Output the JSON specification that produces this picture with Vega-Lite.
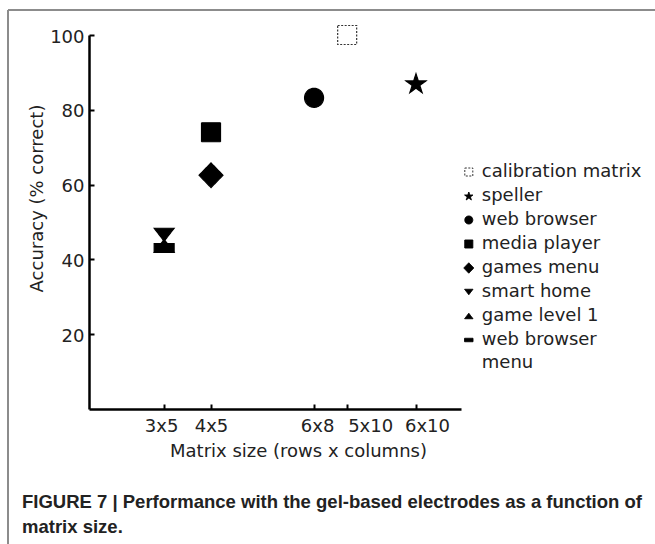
{
  "$schema": "https://vega.github.io/schema/vega-lite/v6.json",
  "autosize": "none",
  "padding": {"left": 8, "top": 10, "right": 0, "bottom": 0},
  "width": 647,
  "height": 534,
  "background": "white",
  "config": {
    "view": {"stroke": "#8c8c8c", "strokeWidth": 2, "strokeDash": [647, 1181, 534, 0], "fill": "white"},
    "font": "DejaVu Sans",
    "style": {"guide-label": {"lineHeight": 23}}
  },
  "title": {
    "text": ["FIGURE 7 | Performance with the gel-based electrodes as a function of", "matrix size."],
    "orient": "top",
    "anchor": "start",
    "frame": "group",
    "baseline": "top",
    "offset": 0,
    "dx": 14,
    "dy": 526,
    "font": "Liberation Sans",
    "fontSize": 18.5,
    "fontWeight": "bold",
    "color": "#222222",
    "lineHeight": 25
  },
  "data": {
    "values": [
      {"app": "calibration matrix", "matrix": "5x10", "pos": 6.94, "accuracy": 100},
      {"app": "speller", "matrix": "6x10", "pos": 8.79, "accuracy": 87.1},
      {"app": "web browser", "matrix": "6x8", "pos": 6.05, "accuracy": 83.2},
      {"app": "media player", "matrix": "4x5", "pos": 3.28, "accuracy": 74.0},
      {"app": "games menu", "matrix": "4x5", "pos": 3.28, "accuracy": 62.5},
      {"app": "smart home", "matrix": "3x5", "pos": 2.02, "accuracy": 46.6},
      {"app": "game level 1", "matrix": "3x5", "pos": 2.02, "accuracy": 43.6},
      {"app": "web browser menu", "matrix": "3x5", "pos": 2.02, "accuracy": 43.1}
    ]
  },
  "mark": {"type": "point", "strokeWidth": 1.2, "opacity": 1, "size": 361},
  "encoding": {
    "x": {
      "field": "pos",
      "type": "quantitative",
      "scale": {"domain": [0, 10], "range": [81, 453]},
      "axis": {
        "orient": "bottom",
        "offset": -135,
        "values": [2.02, 3.28, 6.05, 6.94, 8.79],
        "labelExpr": "datum.value < 2.5 ? '3x5' : datum.value < 4 ? '4x5' : datum.value < 6.5 ? '6x8' : datum.value < 8 ? '5x10' : '6x10'",
        "grid": false,
        "domainColor": "black",
        "domainWidth": 2.5,
        "tickColor": "black",
        "tickWidth": 2,
        "tickSize": -5,
        "labelFontSize": 18,
        "labelColor": "#222222",
        "labelPadding": 13,
        "labelOverlap": false,
        "labelFlush": false,
        "labelOffset": {
          "condition": [
            {"test": "datum.value > 8", "value": 11},
            {"test": "datum.value > 6.5", "value": 23},
            {"test": "datum.value > 5", "value": 3},
            {"test": "datum.value < 2.5", "value": -3}
          ],
          "value": 0
        },
        "title": "Matrix size (rows x columns)",
        "titleFontSize": 18,
        "titleFontWeight": "normal",
        "titleColor": "#222222",
        "titleX": 290,
        "titleY": 47,
        "titleAlign": "center",
        "titleBaseline": "alphabetic"
      }
    },
    "y": {
      "field": "accuracy",
      "type": "quantitative",
      "scale": {"domain": [0, 100], "range": [399, 25]},
      "axis": {
        "orient": "left",
        "offset": -81,
        "values": [20, 40, 60, 80, 100],
        "grid": false,
        "domainColor": "black",
        "domainWidth": 2.5,
        "tickColor": "black",
        "tickWidth": 2,
        "tickSize": -5,
        "labelFontSize": 18,
        "labelColor": "#222222",
        "labelPadding": 10,
        "labelOffset": 2,
        "title": "Accuracy (% correct)",
        "titleFontSize": 18,
        "titleFontWeight": "normal",
        "titleColor": "#222222",
        "titleAngle": -90,
        "titleX": -52,
        "titleY": 188,
        "titleAlign": "center",
        "titleBaseline": "middle"
      }
    },
    "shape": {
      "field": "app",
      "type": "nominal",
      "scale": {
        "domain": ["calibration matrix", "speller", "web browser", "media player", "games menu", "smart home", "game level 1", "web browser menu"],
        "range": [
          "square",
          "M0,-1L0.247,-0.24L1.046,-0.24L0.4,0.23L0.647,0.99L0,0.52L-0.647,0.99L-0.4,0.23L-1.046,-0.24L-0.247,-0.24Z",
          "circle",
          "square",
          "M0,-1.3L1.26,0L0,1.3L-1.26,0Z",
          "M-1.05,-0.68L1.05,-0.68L0,0.68Z",
          "M0,-0.68L1.05,0.68L-1.05,0.68Z",
          "M-1.05,-0.43L1.05,-0.43L1.05,0.43L-1.05,0.43Z"
        ]
      },
      "legend": {
        "title": null,
        "orient": "none",
        "legendX": 451.8,
        "legendY": 153,
        "padding": 0,
        "labelFontSize": 18,
        "labelColor": "#222222",
        "labelOffset": 4,
        "rowPadding": 6,
        "symbolSize": 64,
        "symbolStrokeWidth": 1,
        "labelExpr": "datum.label == 'web browser menu' ? ['web browser', 'menu'] : datum.label",
        "encode": {"labels": {"update": {"dy": {"signal": "datum.value == 'web browser menu' ? 11.5 : 0"}}}}
      }
    },
    "fill": {
      "field": "app",
      "type": "nominal",
      "scale": {
        "domain": ["calibration matrix", "speller", "web browser", "media player", "games menu", "smart home", "game level 1", "web browser menu"],
        "range": ["transparent", "black", "black", "black", "black", "black", "black", "black"]
      },
      "legend": {
        "title": null,
        "orient": "none",
        "legendX": 451.8,
        "legendY": 153,
        "padding": 0,
        "labelFontSize": 18,
        "labelColor": "#222222",
        "labelOffset": 4,
        "rowPadding": 6,
        "symbolSize": 64,
        "symbolStrokeWidth": 1,
        "labelExpr": "datum.label == 'web browser menu' ? ['web browser', 'menu'] : datum.label",
        "encode": {"labels": {"update": {"dy": {"signal": "datum.value == 'web browser menu' ? 11.5 : 0"}}}}
      }
    },
    "stroke": {
      "field": "app",
      "type": "nominal",
      "scale": {
        "domain": ["calibration matrix", "speller", "web browser", "media player", "games menu", "smart home", "game level 1", "web browser menu"],
        "range": ["#333333", "black", "black", "black", "black", "black", "black", "black"]
      },
      "legend": {
        "title": null,
        "orient": "none",
        "legendX": 451.8,
        "legendY": 153,
        "padding": 0,
        "labelFontSize": 18,
        "labelColor": "#222222",
        "labelOffset": 4,
        "rowPadding": 6,
        "symbolSize": 64,
        "symbolStrokeWidth": 1,
        "labelExpr": "datum.label == 'web browser menu' ? ['web browser', 'menu'] : datum.label",
        "encode": {"labels": {"update": {"dy": {"signal": "datum.value == 'web browser menu' ? 11.5 : 0"}}}}
      }
    },
    "strokeDash": {
      "field": "app",
      "type": "nominal",
      "scale": {
        "domain": ["calibration matrix", "speller", "web browser", "media player", "games menu", "smart home", "game level 1", "web browser menu"],
        "range": [[2, 1.5], [1, 0], [1, 0], [1, 0], [1, 0], [1, 0], [1, 0], [1, 0]]
      },
      "legend": {
        "title": null,
        "orient": "none",
        "legendX": 451.8,
        "legendY": 153,
        "padding": 0,
        "labelFontSize": 18,
        "labelColor": "#222222",
        "labelOffset": 4,
        "rowPadding": 6,
        "symbolSize": 64,
        "symbolStrokeWidth": 1,
        "labelExpr": "datum.label == 'web browser menu' ? ['web browser', 'menu'] : datum.label",
        "encode": {"labels": {"update": {"dy": {"signal": "datum.value == 'web browser menu' ? 11.5 : 0"}}}}
      }
    }
  }
}
